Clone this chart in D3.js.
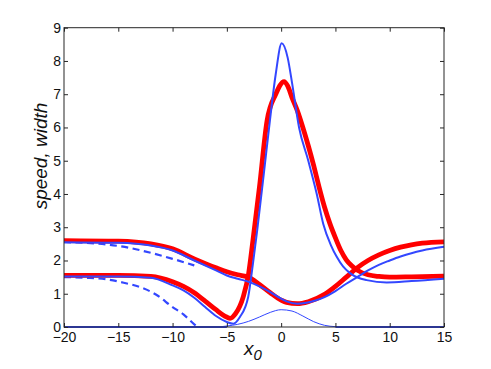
<!DOCTYPE html>
<html><head><meta charset="utf-8">
<script src="https://cdn.jsdelivr.net/npm/d3@7"></script>
<style>body{margin:0;background:#fff}svg{display:block}text{font-family:"Liberation Sans",Arial,sans-serif}</style>
</head><body><svg id="c" width="491" height="369"></svg>
<script>
// Data
const xTicks = [-20,-15,-10,-5,0,5,10,15];
const yTicks = [0,1,2,3,4,5,6,7,8,9];
const redPeakX = [-20,-15,-12,-10,-9,-8,-7,-6,-5.2,-4.7,-4.2,-3.5,-3,-2.6,-2,-1.3,-0.5,0.27,0.6,1,1.5,2,2.5,3,3.5,4,4.5,5,5.5,6,6.5,7,8,9,10,12,15];
const redPeakY = [1.55,1.55,1.52,1.36,1.22,1.03,0.78,0.52,0.33,0.26,0.4,0.9,1.6,2.6,4.2,6.2,7.0,7.38,7.25,6.9,6.5,6.0,5.45,4.85,4.2,3.6,3.1,2.68,2.3,2.02,1.84,1.71,1.57,1.52,1.5,1.51,1.53];
const bluePeakX = [-20,-15,-12,-10,-9,-8,-7,-6,-5,-4.4,-3.8,-3.03,-2.6,-2.2,-1.6,-1.03,-0.5,0.05,0.6,1,1.65,2.5,3.28,3.88,4.6,5.12,5.7,6.34,7.1,7.88,9.72,12,15];
const bluePeakY = [1.52,1.52,1.48,1.25,1.1,0.88,0.6,0.33,0.15,0.1,0.3,0.91,1.9,2.92,4.6,6.22,7.6,8.53,8.1,7.35,6.0,5.0,4.0,3.1,2.45,2.11,1.82,1.62,1.48,1.41,1.34,1.38,1.45];
const redUpX = [-20,-15,-12,-10,-8,-6,-5,-4,-3,-2,-1,0,0.5,1.5,2.5,4,5,6,7,8,9,10,11,12,13,15];
const redUpY = [2.6,2.58,2.5,2.35,2.05,1.78,1.66,1.57,1.5,1.28,1.03,0.81,0.74,0.7,0.76,0.98,1.22,1.5,1.78,2.0,2.17,2.3,2.4,2.47,2.52,2.56];
const blueUpX = [-20,-15,-12,-10,-8,-6,-5,-4,-3,-2,-1,0,0.5,1.5,3,4,5,6,7,8,9,10,11,12,13,15];
const blueUpY = [2.55,2.53,2.45,2.3,2.0,1.7,1.55,1.45,1.36,1.22,1.05,0.85,0.77,0.7,0.78,0.9,1.08,1.3,1.5,1.7,1.87,2.0,2.12,2.22,2.3,2.41];
const dashUpX = [-20,-18,-16,-14,-12,-10,-8];
const dashUpY = [2.55,2.53,2.48,2.38,2.23,2.05,1.85];
const dashLowX = [-20,-18,-16,-14.5,-13,-11.5,-10,-9,-8,-7.7];
const dashLowY = [1.5,1.48,1.43,1.33,1.2,0.97,0.6,0.38,0.08,0];
const bumpX = [-20,-6,-5,-4,-3,-2,-1,0,1,2,3,4,5,6,15];
const bumpY = [0,0,0.03,0.08,0.17,0.3,0.44,0.52,0.48,0.33,0.16,0.05,0.01,0,0];
const baseLeftX = [-20,-5];
const baseLeftY = [0,0];
const baseRightX = [5,15];
const baseRightY = [0,0];

const L=64,R=444,T=27.7,B=327;
const svg=d3.select("#c");
const x=d3.scaleLinear().domain([-20,15]).range([L,R]);
const y=d3.scaleLinear().domain([0,9]).range([B,T]);
const pts=(xs,ys)=>xs.map((v,i)=>[v,ys[i]]);
const line=d3.line().x(d=>x(d[0])).y(d=>y(d[1])).curve(d3.curveMonotoneX);
const blue="#3347ff", red="#ff0000";
const g=svg.append("g");
function draw(xs,ys,color,w,dash){
  const p=g.append("path").datum(pts(xs,ys)).attr("fill","none").attr("stroke",color)
   .attr("stroke-width",w).attr("stroke-linejoin","round").attr("d",line);
  if(dash) p.attr("stroke-dasharray",dash);
}

// axes box
svg.append("rect").attr("x",L).attr("y",T).attr("width",R-L).attr("height",B-T).attr("fill","none").attr("stroke","#262626").attr("stroke-width",1);

draw(bumpX,bumpY,blue,1);
draw(baseLeftX,baseLeftY,blue,2);
draw(baseRightX,baseRightY,blue,2);
draw(dashUpX,dashUpY,blue,2.2,"7,4.5");
draw(dashLowX,dashLowY,blue,2.2,"7,4.5");
draw(redUpX,redUpY,red,4.8);
draw(redPeakX,redPeakY,red,4.8);
draw(blueUpX,blueUpY,blue,2);
draw(bluePeakX,bluePeakY,blue,2);

svg.append("g").attr("transform",`translate(0,${B})`).call(d3.axisBottom(x).tickValues(xTicks).tickSizeInner(-4).tickSizeOuter(0).tickPadding(5).tickFormat(d=>d<0?"\u2212"+Math.abs(d):d))
  .call(s=>{s.select(".domain").remove();s.selectAll("line").attr("stroke","#262626");s.selectAll("text").attr("font-size",14).attr("fill","#111");});
svg.append("g").attr("transform",`translate(0,${T})`).call(d3.axisTop(x).tickValues(xTicks).tickSizeInner(-4).tickSizeOuter(0).tickFormat(""))
  .call(s=>{s.select(".domain").remove();s.selectAll("line").attr("stroke","#262626");});
svg.append("g").attr("transform",`translate(${L},0)`).call(d3.axisLeft(y).tickValues(yTicks).tickSizeInner(-4).tickSizeOuter(0).tickPadding(3))
  .call(s=>{s.select(".domain").remove();s.selectAll("line").attr("stroke","#262626");s.selectAll("text").attr("font-size",14).attr("fill","#111");});
svg.append("g").attr("transform",`translate(${R},0)`).call(d3.axisRight(y).tickValues(yTicks).tickSizeInner(-4).tickSizeOuter(0).tickFormat(""))
  .call(s=>{s.select(".domain").remove();s.selectAll("line").attr("stroke","#262626");});

// labels
const xl=svg.append("text").attr("x",253).attr("y",355).attr("text-anchor","middle").attr("font-size",19).attr("font-style","italic").attr("fill","#111");
xl.append("tspan").text("x");
xl.append("tspan").attr("dy",5).attr("font-size",15).text("0");
svg.append("text").attr("transform","translate(47,156) rotate(-90)").attr("text-anchor","middle").attr("font-size",19).attr("font-style","italic").attr("fill","#111").text("speed, width");
</script></body></html>
